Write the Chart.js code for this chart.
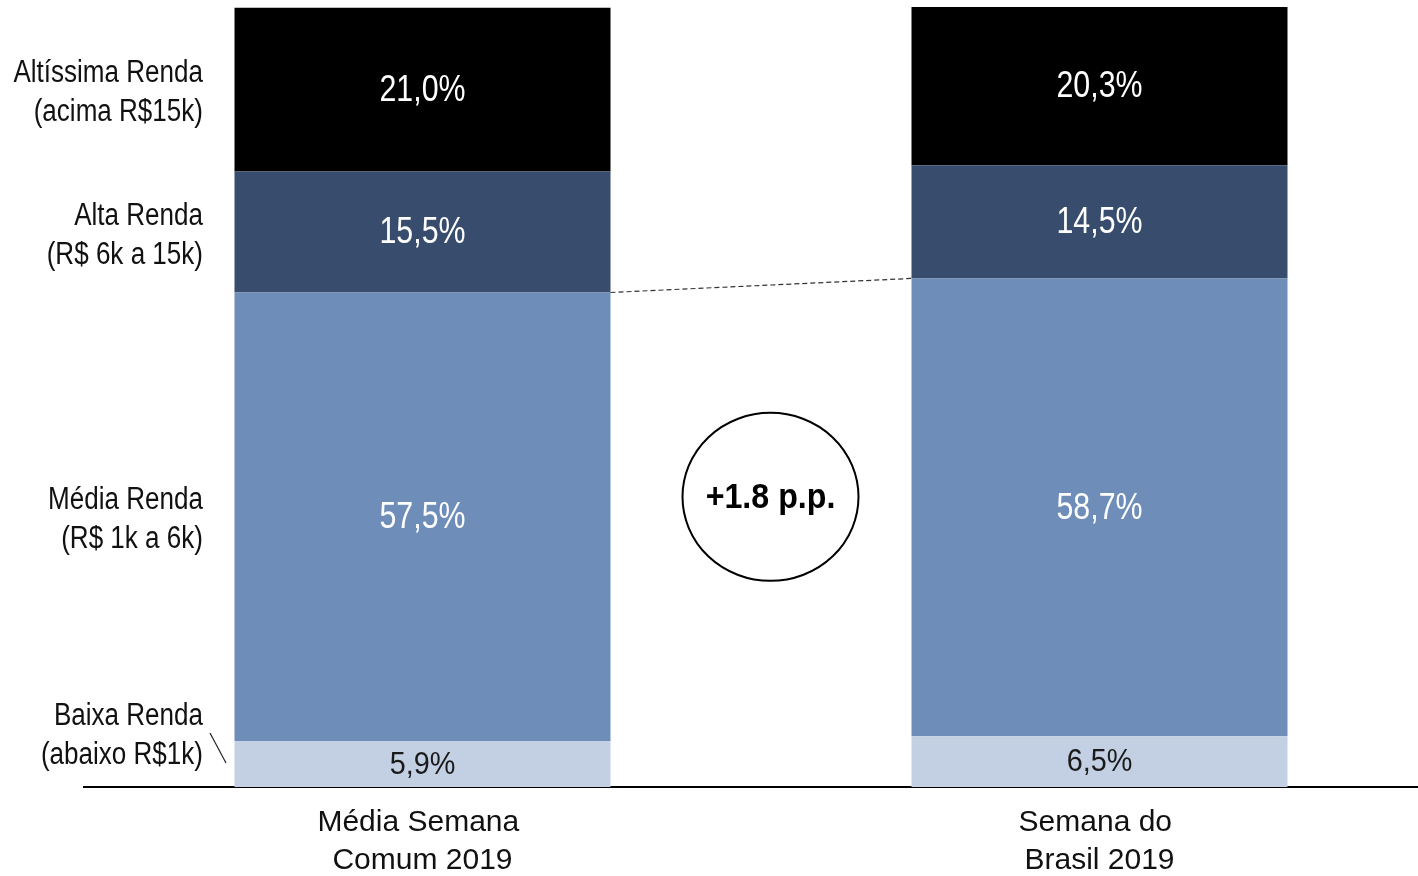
<!DOCTYPE html>
<html><head><meta charset="utf-8">
<script src="https://cdn.jsdelivr.net/npm/chart.js@4/dist/chart.umd.min.js"></script>
<style>
html,body{margin:0;padding:0;overflow:hidden;background:#fff;width:1418px;height:876px}
#wrap{position:relative;width:1440px;height:876px}
</style></head>
<body><div id="wrap"><canvas id="c"></canvas></div>
<script>
// ---- data ----
const categories = [["Média Semana ", "Comum 2019"], ["Semana do ", "Brasil 2019"]];
const seriesNames = ["Baixa Renda", "Média Renda", "Alta Renda", "Altíssima Renda"];
const baixa = [5.9, 6.5];
const media = [57.5, 58.7];
const alta = [15.5, 14.5];
const altissima = [21.0, 20.3];
const seriesLabels = [
  ["Baixa Renda", "(abaixo R$1k)"],
  ["Média Renda", "(R$ 1k a 6k)"],
  ["Alta Renda", "(R$ 6k a 15k)"],
  ["Altíssima Renda", "(acima R$15k)"]
];
const deltaText = "+1.8 p.p.";
const deltaValueY = 37.2; // vertical position of bubble, in axis units

// ---- styles ----
const colors = ["#C3CFE2", "#6E8DB8", "#384D6D", "#000000"];
const labelColors = ["#1a1a1a", "#ffffff", "#ffffff", "#ffffff"];
const FONT = "'Liberation Sans', Arial, sans-serif";

function fmt(v){ return v.toFixed(1).replace('.', ',') + '%'; }

function drawScaledText(ctx, text, x, y, font, sx, align, color){
  ctx.save();
  ctx.font = font;
  ctx.fillStyle = color;
  ctx.textBaseline = 'middle';
  ctx.textAlign = align;
  ctx.translate(x, y);
  ctx.scale(sx, 1);
  ctx.fillText(text, 0, 0);
  ctx.restore();
}

const overlay = {
  id: 'overlay',
  afterDatasetsDraw(chart){
    const ctx = chart.ctx;
    const yScale = chart.scales.y;
    // value labels
    chart.data.datasets.forEach((ds, di) => {
      const meta = chart.getDatasetMeta(di);
      meta.data.forEach((el, i) => {
        const props = el.getProps(['x','y','base'], true);
        const cy = (props.y + props.base) / 2;
        const isBottom = di === 0;
        drawScaledText(ctx, fmt(ds.data[i]), props.x, cy + 1,
          isBottom ? `32px ${FONT}` : `37px ${FONT}`,
          isBottom ? 0.9 : 0.82, 'center', labelColors[di]);
      });
    });
    // dashed connector between Média tops
    const mMeta = chart.getDatasetMeta(1);
    const a = mMeta.data[0].getProps(['x','y','width'], true);
    const b = mMeta.data[1].getProps(['x','y','width'], true);
    ctx.save();
    ctx.strokeStyle = '#333';
    ctx.lineWidth = 1.2;
    ctx.setLineDash([5, 3]);
    ctx.beginPath();
    ctx.moveTo(a.x + a.width/2, a.y);
    ctx.lineTo(b.x - b.width/2, b.y);
    ctx.stroke();
    ctx.restore();
    // bubble
    const cx = (a.x + b.x) / 2 + 9.5;
    const cyb = yScale.getPixelForValue(deltaValueY);
    ctx.save();
    ctx.fillStyle = '#fff';
    ctx.strokeStyle = '#000';
    ctx.lineWidth = 2;
    ctx.beginPath();
    ctx.ellipse(cx, cyb, 88, 84, 0, 0, Math.PI*2);
    ctx.fill();
    ctx.stroke();
    ctx.restore();
    drawScaledText(ctx, deltaText, cx, cyb + 2, `bold 35px ${FONT}`, 0.92, 'center', '#000');
    // left series labels, from first column
    seriesLabels.forEach((lines, di) => {
      const el = chart.getDatasetMeta(di).data[0].getProps(['y','base'], true);
      let cy = (el.y + el.base) / 2 + 3.5;
      if (di === 0) cy -= 31.5;
      const lh = 39;
      lines.forEach((t, k) => {
        drawScaledText(ctx, t, 203, cy + (k - (lines.length-1)/2) * lh, `31px ${FONT}`, 0.84, 'right', '#111');
      });
      if (di === 0) {
        const segC = (el.y + el.base) / 2;
        ctx.save();
        ctx.strokeStyle = '#222';
        ctx.lineWidth = 1.2;
        ctx.beginPath();
        ctx.moveTo(210, segC - 31);
        ctx.lineTo(226, segC - 1);
        ctx.stroke();
        ctx.restore();
      }
    });
  }
};

const datasets = [baixa, media, alta, altissima].map((arr, i) => ({
  label: seriesNames[i],
  data: arr,
  backgroundColor: colors[i],
  borderWidth: 0,
  barPercentage: 0.5554,
  categoryPercentage: 1.0
}));

new Chart(document.getElementById('c'), {
  type: 'bar',
  data: { labels: categories, datasets },
  options: {
    responsive: true,
    maintainAspectRatio: false,
    animation: false,
    layout: { padding: { left: 84, right: 2, top: 7, bottom: 0 } },
    plugins: { legend: { display: false }, tooltip: { enabled: false } },
    scales: {
      x: {
        stacked: true,
        grid: { display: false, drawTicks: false },
        border: { display: true, color: '#000', width: 2 },
        ticks: { color: '#111', padding: 17, font: { family: FONT, size: 30, lineHeight: 1.267 } },
        afterFit(scale){ scale.height = 89; }
      },
      y: {
        stacked: true, display: false, min: 0, max: 100
      }
    }
  },
  plugins: [overlay]
});
</script>
</body></html>
